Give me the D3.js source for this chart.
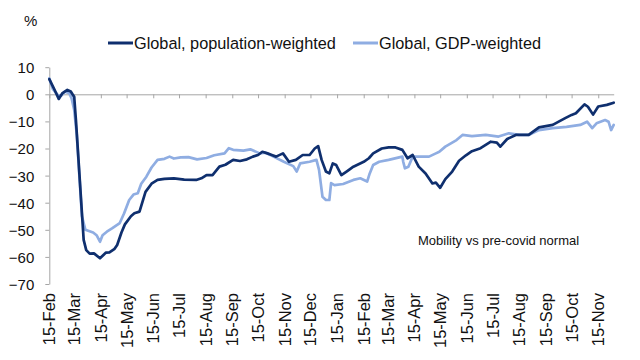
<!DOCTYPE html>
<html><head><meta charset="utf-8">
<script src="https://cdn.jsdelivr.net/npm/d3@7"></script>
<style>
body{margin:0;background:#fff;}
svg{display:block;font-family:"Liberation Sans",Arial,sans-serif;}
</style></head>
<body><svg id="c" width="640" height="360"></svg>
<script>
const seriesNames = ["Global, population-weighted", "Global, GDP-weighted"];
const seriesColors = ["#0f2f6e", "#8fade2"];

const popDates = ["2020-02-15","2020-02-20","2020-02-26","2020-03-01","2020-03-07","2020-03-11","2020-03-15","2020-03-17","2020-03-20","2020-03-23","2020-03-26","2020-03-29","2020-04-02","2020-04-07","2020-04-14","2020-04-18","2020-04-21","2020-04-25","2020-05-01","2020-05-04","2020-05-09","2020-05-13","2020-05-20","2020-05-24","2020-05-30","2020-06-06","2020-06-13","2020-06-20","2020-06-28","2020-07-09","2020-07-21","2020-08-04","2020-08-10","2020-08-16","2020-08-23","2020-08-31","2020-09-07","2020-09-16","2020-09-24","2020-10-02","2020-10-09","2020-10-15","2020-10-20","2020-10-26","2020-10-31","2020-11-05","2020-11-13","2020-11-20","2020-11-28","2020-12-06","2020-12-14","2020-12-20","2020-12-24","2020-12-28","2021-01-02","2021-01-06","2021-01-10","2021-01-14","2021-01-20","2021-01-26","2021-02-03","2021-02-15","2021-02-21","2021-02-26","2021-03-08","2021-03-16","2021-03-24","2021-04-01","2021-04-07","2021-04-13","2021-04-20","2021-04-28","2021-05-06","2021-05-10","2021-05-15","2021-05-21","2021-05-29","2021-06-06","2021-06-14","2021-06-21","2021-07-01","2021-07-13","2021-07-20","2021-07-24","2021-08-01","2021-08-11","2021-08-26","2021-09-07","2021-09-23","2021-10-07","2021-10-15","2021-10-20","2021-10-30","2021-11-03","2021-11-09","2021-11-15","2021-11-25","2021-12-03"];
const popValues = [5.6,2.4,-1.7,0.3,1.6,1.0,-1.0,-9.5,-24.2,-39,-53.7,-57.5,-58.8,-58.7,-60.5,-59.3,-58.4,-58.3,-57,-55.6,-51,-48,-45,-43.9,-43.3,-36,-33,-31.6,-31.2,-31,-31.5,-31.6,-31,-29.8,-29.8,-26.7,-26,-24.2,-24.6,-24,-23,-22.4,-21.2,-21.8,-22.4,-23,-21.8,-24.9,-24.2,-22.4,-22.4,-20,-19.1,-24.2,-28.5,-29.2,-25.5,-26.1,-29.8,-28.5,-26.7,-24.9,-23.6,-21.8,-20,-19.6,-19.6,-20.5,-23.6,-22.4,-26.7,-29.2,-32.9,-32.6,-34.5,-31.3,-28.5,-24.5,-22.5,-21,-19.9,-17.5,-17.8,-19.3,-16.5,-15,-15,-12.2,-11.3,-8.9,-7.6,-7,-3.7,-4.6,-7.5,-4.5,-3.9,-3.1];

const gdpDates = ["2020-02-15","2020-02-19","2020-02-25","2020-02-29","2020-03-04","2020-03-09","2020-03-12","2020-03-15","2020-03-18","2020-03-21","2020-03-24","2020-03-28","2020-04-06","2020-04-10","2020-04-14","2020-04-17","2020-04-22","2020-04-28","2020-05-07","2020-05-12","2020-05-18","2020-05-23","2020-05-28","2020-06-01","2020-06-07","2020-06-13","2020-06-20","2020-06-28","2020-07-04","2020-07-09","2020-07-17","2020-07-26","2020-08-05","2020-08-16","2020-08-25","2020-09-06","2020-09-11","2020-09-16","2020-09-28","2020-10-06","2020-10-17","2020-10-23","2020-11-02","2020-11-14","2020-11-25","2020-11-29","2020-12-03","2020-12-14","2020-12-22","2020-12-25","2020-12-29","2021-01-02","2021-01-06","2021-01-08","2021-01-12","2021-01-22","2021-02-03","2021-02-11","2021-02-19","2021-02-22","2021-02-26","2021-03-05","2021-03-16","2021-04-01","2021-04-02","2021-04-04","2021-04-08","2021-04-13","2021-04-20","2021-05-02","2021-05-10","2021-05-14","2021-05-21","2021-06-03","2021-06-10","2021-06-21","2021-07-07","2021-07-22","2021-08-03","2021-08-15","2021-08-26","2021-09-07","2021-09-23","2021-10-09","2021-10-25","2021-11-02","2021-11-08","2021-11-13","2021-11-23","2021-11-27","2021-11-30","2021-12-03"];
const gdpValues = [5.9,2.0,-0.3,-0.5,1.0,0.5,-1.5,-5.8,-15,-30,-45,-50,-51,-52,-54.4,-52,-50.7,-49.5,-47.5,-44,-39,-37,-36.5,-33,-30.4,-27,-24.2,-23.8,-23,-23.7,-23.3,-23.2,-24,-23.5,-22.5,-21.8,-19.9,-20.5,-20.8,-20.3,-21.8,-21.5,-23,-24.9,-26.5,-28.5,-25.5,-24.9,-24.2,-27.9,-37.8,-39,-39,-32.8,-33.5,-33.1,-31.6,-31,-32.2,-29.2,-26.1,-24.9,-24.2,-23,-24.9,-27.3,-26.7,-23,-23,-23,-21.8,-21.2,-19.3,-16.9,-15,-15.4,-15,-15.6,-14.4,-15,-15,-13.2,-12.5,-12,-11.3,-10.1,-12.5,-10.7,-9.5,-10.1,-13.2,-11.3];

const tickDates = ["2020-02-15","2020-03-15","2020-04-15","2020-05-15","2020-06-15","2020-07-15","2020-08-15","2020-09-15","2020-10-15","2020-11-15","2020-12-15","2021-01-15","2021-02-15","2021-03-15","2021-04-15","2021-05-15","2021-06-15","2021-07-15","2021-08-15","2021-09-15","2021-10-15","2021-11-15"];
const tickLabels = ["15-Feb","15-Mar","15-Apr","15-May","15-Jun","15-Jul","15-Aug","15-Sep","15-Oct","15-Nov","15-Dec","15-Jan","15-Feb","15-Mar","15-Apr","15-May","15-Jun","15-Jul","15-Aug","15-Sep","15-Oct","15-Nov"];
const yTicks = [10,0,-10,-20,-30,-40,-50,-60,-70];
const yUnit = "%";
const note = "Mobility vs pre-covid normal";

const parse = d3.timeParse("%Y-%m-%d");
const svg = d3.select("#c");
const axisColor = "#a6a6a6";

const x = d3.scaleTime()
  .domain([parse("2020-02-15"), parse("2021-12-03")])
  .range([49.3, 613.7]);
const y = d3.scaleLinear().domain([-70, 10]).range([284, 67.2]);

// Y axis
const yAxis = svg.append("g").attr("transform", "translate(49.3,0)")
  .call(d3.axisLeft(y).tickValues(yTicks).tickSize(4).tickSizeOuter(0).tickPadding(11));
yAxis.select(".domain").attr("stroke", axisColor);
yAxis.selectAll(".tick line").attr("stroke", axisColor);
yAxis.selectAll(".tick text").attr("font-size", 15).attr("fill", "#111")
  .attr("font-family", "Liberation Sans, Arial, sans-serif").attr("dy", "0.36em");

// X axis at zero
const xAxis = svg.append("g").attr("transform", `translate(0,${y(0)})`)
  .call(d3.axisBottom(x).tickValues(tickDates.map(parse)).tickSize(4).tickSizeOuter(0).tickFormat(""));
xAxis.select(".domain").attr("stroke", axisColor);
xAxis.selectAll(".tick line").attr("stroke", axisColor);

// X labels at bottom, rotated
svg.append("g").selectAll("text").data(tickDates).join("text")
  .attr("transform", (d) => `translate(${x(parse(d))},293) rotate(-90)`)
  .attr("text-anchor", "end").attr("dy", "0.36em")
  .attr("font-size", 16.5).attr("fill", "#111")
  .text((d, i) => tickLabels[i]);

// Lines
const line = d3.line().x(d => x(d[0])).y(d => y(d[1]));
const gdpData = gdpDates.map((d, i) => [parse(d), gdpValues[i]]);
const popData = popDates.map((d, i) => [parse(d), popValues[i]]);
svg.append("path").datum(gdpData).attr("d", line)
  .attr("fill", "none").attr("stroke", seriesColors[1]).attr("stroke-width", 2.7)
  .attr("stroke-linejoin", "round").attr("stroke-linecap", "round");
svg.append("path").datum(popData).attr("d", line)
  .attr("fill", "none").attr("stroke", seriesColors[0]).attr("stroke-width", 2.7)
  .attr("stroke-linejoin", "round").attr("stroke-linecap", "round");

// Unit label
svg.append("text").attr("x", 24).attr("y", 26).attr("font-size", 15).attr("fill", "#111").text(yUnit);

// Legend
const legX = [108, 353];
seriesNames.forEach((n, i) => {
  svg.append("line").attr("x1", legX[i]).attr("x2", legX[i] + 25).attr("y1", 43).attr("y2", 43)
    .attr("stroke", seriesColors[i]).attr("stroke-width", 3);
  svg.append("text").attr("x", legX[i] + 26).attr("y", 48.5).attr("font-size", 16.3)
    .attr("fill", "#111").text(n);
});

// Note
svg.append("text").attr("x", 418).attr("y", 245).attr("font-size", 13).attr("fill", "#111").text(note);
</script></body></html>
